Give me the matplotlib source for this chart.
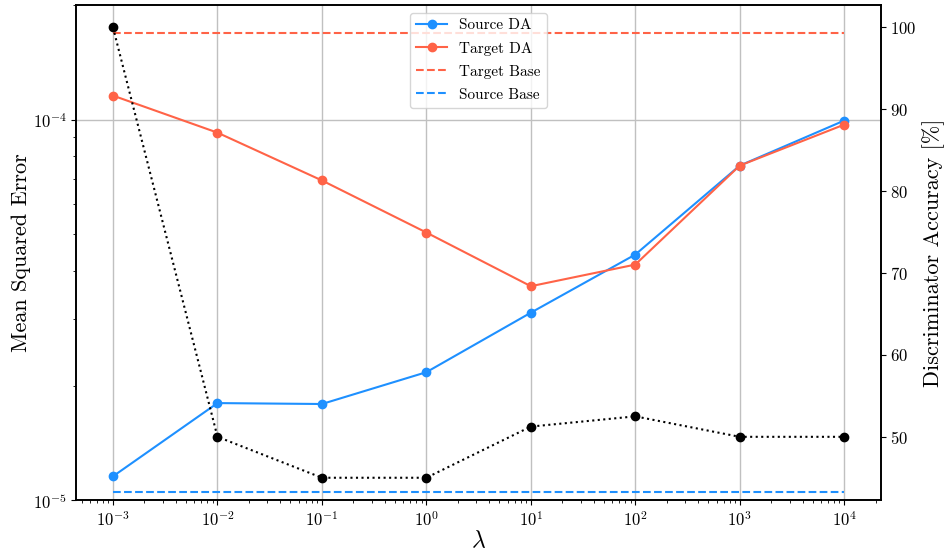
import matplotlib
matplotlib.use("Agg")
import matplotlib.pyplot as plt

plt.rcParams["font.family"] = "serif"
plt.rcParams["font.serif"] = ["cmr10", "DejaVu Serif"]
plt.rcParams["mathtext.fontset"] = "cm"
plt.rcParams["axes.formatter.use_mathtext"] = True

lambdas = [1e-3, 1e-2, 1e-1, 1e0, 1e1, 1e2, 1e3, 1e4]
source_da = [1.156e-5, 1.80e-5, 1.79e-5, 2.17e-5, 3.11e-5, 4.42e-5, 7.57e-5, 9.94e-5]
target_da = [1.156e-4, 9.24e-5, 6.92e-5, 5.05e-5, 3.65e-5, 4.16e-5, 7.57e-5, 9.70e-5]
target_base = 1.69e-4
source_base = 1.05e-5
disc_acc = [100, 50, 45, 45, 51.25, 52.5, 50, 50]

fig, ax = plt.subplots(figsize=(9.44, 5.54), dpi=100)
fig.subplots_adjust(left=0.081, right=0.933, top=0.991, bottom=0.097)

ax.plot(lambdas, source_da, "o-", color="dodgerblue", lw=1.5, ms=6, label="Source DA")
ax.plot(lambdas, target_da, "o-", color="tomato", lw=1.5, ms=6, label="Target DA")
ax.hlines(target_base, lambdas[0], lambdas[-1], colors="tomato", linestyles="--",
          lw=1.5, label="Target Base")
ax.hlines(source_base, lambdas[0], lambdas[-1], colors="dodgerblue", linestyles="--",
          lw=1.5, label="Source Base")

ax.set_xscale("log")
ax.set_yscale("log")
ax.set_ylim(1e-5, 2e-4)
ax.grid(True, which="major", color="#c0c0c0", lw=1.0)
ax.set_axisbelow(True)
ax.set_xlabel(r"$\lambda$", fontsize=17, labelpad=1)
ax.set_ylabel("Mean Squared Error", fontsize=16, labelpad=1)
ax.tick_params(labelsize=12)

ax2 = ax.twinx()
ax2.plot(lambdas, disc_acc, "o:", color="black", lw=1.5, ms=6)
ax2.set_ylabel("Discriminator Accuracy [%]", fontsize=16)
ax2.tick_params(labelsize=12)
ax2.set_yticks([50, 60, 70, 80, 90, 100])

for a in (ax, ax2):
    for s in a.spines.values():
        s.set_linewidth(1.2)

handles, labels = ax.get_legend_handles_labels()
leg = ax2.legend(handles, labels, loc="upper center", fontsize=11, labelspacing=0.6)
leg.get_frame().set_alpha(0.8)

fig.savefig("out.png", dpi=100)
